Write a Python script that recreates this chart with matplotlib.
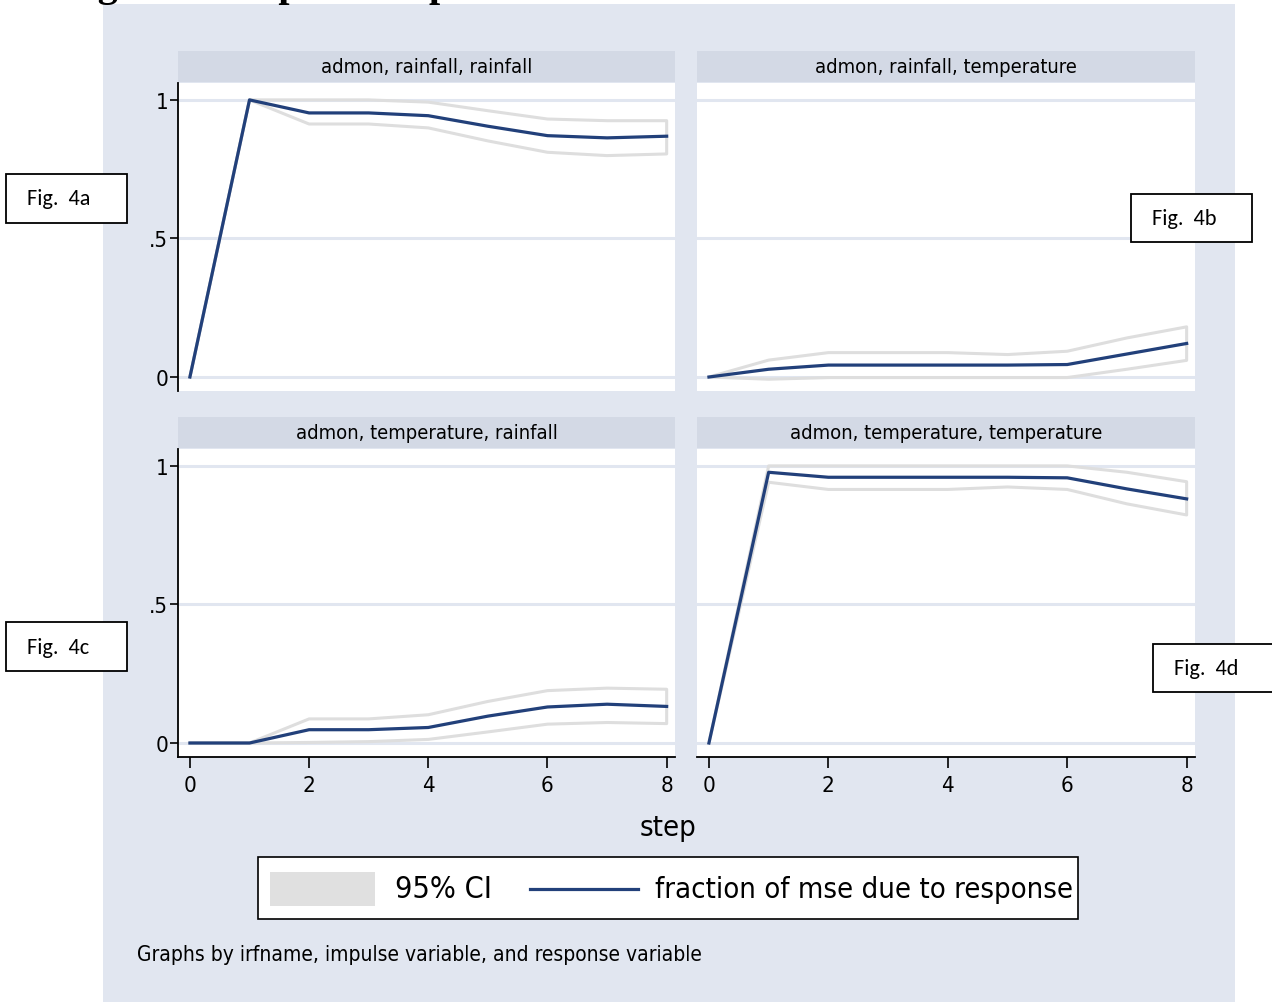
import matplotlib
matplotlib.use("Agg")
import matplotlib.pyplot as plt
from matplotlib.patches import Rectangle
from matplotlib.lines import Line2D

W, H = 1272, 1003
plt.rcParams["font.family"] = ["DejaVu Sans"]
plt.rcParams["font.stretch"] = "condensed"

# data: forecast error variance decomposition, steps 0..8
steps = [0, 1, 2, 3, 4, 5, 6, 7, 8]
titles = ["admon, rainfall, rainfall", "admon, rainfall, temperature",
          "admon, temperature, rainfall", "admon, temperature, temperature"]

fevd_a = [0, 1.0, 0.953, 0.953, 0.943, 0.905, 0.871, 0.863, 0.869]
hi_a = [0, 1.0, 1.0, 1.0, 0.992, 0.961, 0.931, 0.925, 0.925]
lo_a = [0, 1.0, 0.913, 0.913, 0.899, 0.852, 0.811, 0.799, 0.805]

fevd_b = [0, 0.028, 0.043, 0.043, 0.043, 0.043, 0.045, 0.083, 0.121]
hi_b = [0, 0.061, 0.088, 0.088, 0.088, 0.081, 0.093, 0.141, 0.181]
lo_b = [0, -0.008, -0.002, -0.002, -0.002, -0.002, -0.002, 0.028, 0.060]

fevd_c = [0, 0, 0.048, 0.048, 0.056, 0.097, 0.130, 0.140, 0.132]
hi_c = [0, 0, 0.087, 0.087, 0.102, 0.150, 0.189, 0.198, 0.194]
lo_c = [0, 0, 0.002, 0.005, 0.013, 0.040, 0.068, 0.074, 0.070]

fevd_d = [0, 0.977, 0.959, 0.959, 0.959, 0.959, 0.957, 0.917, 0.881]
hi_d = [0, 1.0, 1.0, 1.0, 1.0, 1.0, 1.0, 0.977, 0.943]
lo_d = [0, 0.941, 0.915, 0.915, 0.915, 0.924, 0.915, 0.863, 0.823]

fig_labels = ["Fig.  4a", "Fig.  4b", "Fig.  4c", "Fig.  4d"]

bg = "#e1e6f0"
head = "#d3d9e5"
navy = "#22407a"
ci_col = "#dedede"


def frect(x0, y0, x1, y1):
    return [x0 / W, 1 - y1 / H, (x1 - x0) / W, (y1 - y0) / H]


def fx(px):
    return px / W


def fy(py):
    return 1 - py / H


fig = plt.figure(figsize=(W / 100, H / 100), dpi=100)
fig.patch.set_facecolor("white")

# outer graph region
r = frect(103, 5, 1235, 1010)
fig.add_artist(Rectangle((r[0], r[1]), r[2], r[3], transform=fig.transFigure,
                         facecolor=bg, edgecolor="none", zorder=0))

# cut-off document heading at the very top
fig.text(fx(62), fy(-4), "Figure 4: Impulse response", fontsize=29,
         fontweight="bold", family=["Liberation Serif", "DejaVu Serif"],
         fontstretch="normal", ha="left", va="baseline")

boxes = [(178, 84, 675, 392), (697, 84, 1195, 392),
         (178, 450, 675, 758), (697, 450, 1195, 758)]
series = [(fevd_a, lo_a, hi_a), (fevd_b, lo_b, hi_b),
          (fevd_c, lo_c, hi_c), (fevd_d, lo_d, hi_d)]

for i, ((x0, y0, x1, y1), title, (fe, lo, hi)) in enumerate(zip(boxes, titles, series)):
    # strip header
    hr = frect(x0, y0 - 32, x1, y0 - 1)
    fig.add_artist(Rectangle((hr[0], hr[1]), hr[2], hr[3], transform=fig.transFigure,
                             facecolor=head, edgecolor="none", zorder=1))
    fig.text(hr[0] + hr[2] / 2, hr[1] + hr[3] / 2, title, fontsize=14.5,
             ha="center", va="center")

    ax = fig.add_axes(frect(x0, y0, x1, y1))
    ax.set_facecolor("white")
    ax.fill_between(steps, lo, hi, facecolor="none", edgecolor=ci_col, lw=2.2, zorder=2)
    ax.plot(steps, fe, color=navy, lw=2.3, zorder=3)
    ax.set_xlim(-0.2, 8.14)
    ax.set_ylim(-0.0505, 1.061)
    ax.set_yticks([0, 0.5, 1])
    ax.set_yticklabels(["0", ".5", "1"])
    ax.set_xticks([0, 2, 4, 6, 8])
    ax.yaxis.grid(True, color=bg, lw=2.2)
    ax.set_axisbelow(True)
    for s in ax.spines.values():
        s.set_visible(False)
    left = i % 2 == 0
    bottom = i >= 2
    if left:
        ax.spines["left"].set_visible(True)
        ax.spines["left"].set_linewidth(1.3)
    if bottom:
        ax.spines["bottom"].set_visible(True)
        ax.spines["bottom"].set_linewidth(1.3)
    ax.tick_params(axis="y", left=left, labelleft=left, length=6, width=1.2,
                   labelsize=16, pad=1)
    ax.tick_params(axis="x", bottom=bottom, labelbottom=bottom, length=8,
                   width=1.2, labelsize=16, pad=5)

fig.text(fx(668), fy(828), "step", fontsize=21, ha="center", va="center")

# legend
lr = frect(258, 858, 1078, 920)
fig.add_artist(Rectangle((lr[0], lr[1]), lr[2], lr[3], transform=fig.transFigure,
                         facecolor="white", edgecolor="black", lw=1.2, zorder=2))
pr = frect(270, 873, 375, 907)
fig.add_artist(Rectangle((pr[0], pr[1]), pr[2], pr[3], transform=fig.transFigure,
                         facecolor="#e0e0e0", edgecolor="none", zorder=3))
fig.text(fx(395), fy(890), "95% CI", fontsize=22, ha="left", va="center", zorder=4)
fig.add_artist(Line2D([fx(530), fx(638)], [fy(890), fy(890)], transform=fig.transFigure,
                      color=navy, lw=2.3, zorder=4))
fig.text(fx(655), fy(890), "fraction of mse due to response", fontsize=21,
         ha="left", va="center", zorder=4)

fig.text(fx(137), fy(955), "Graphs by irfname, impulse variable, and response variable",
         fontsize=15, ha="left", va="center")

# annotation boxes
lab_boxes = [(6, 175, 127, 224), (1131, 195, 1252, 243),
             (6, 623, 127, 672), (1153, 645, 1290, 693)]
for lab, (x0, y0, x1, y1) in zip(fig_labels, lab_boxes):
    br = frect(x0, y0, x1, y1)
    fig.add_artist(Rectangle((br[0], br[1]), br[2], br[3], transform=fig.transFigure,
                             facecolor="white", edgecolor="black", lw=1.3, zorder=5))
    fig.text(fx(x0 + 21), br[1] + br[3] / 2, lab, fontsize=16,
             family=["Carlito", "Lato", "DejaVu Sans"], fontstretch="normal",
             ha="left", va="center", zorder=6)

fig.savefig("out.png", dpi=100)
